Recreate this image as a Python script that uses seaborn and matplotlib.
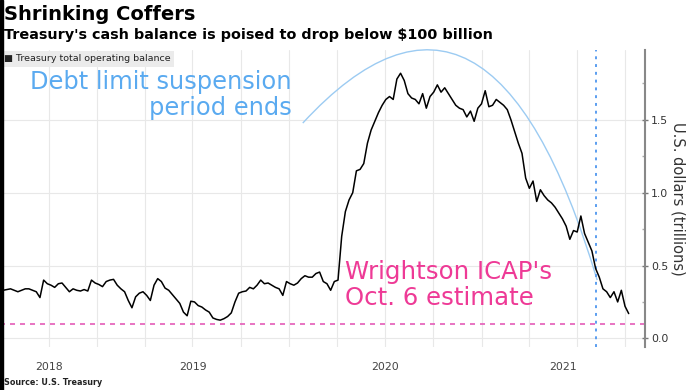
import pandas as pd
import matplotlib.pyplot as plt
import matplotlib.dates as mdates
import seaborn as sns
from matplotlib.path import Path
from matplotlib.patches import PathPatch, Rectangle

# weekly Treasury operating balance (USD trillions)
start_date = "2018-07-06"
balance = [
    0.33, 0.335, 0.34, 0.33, 0.32, 0.33, 0.34, 0.34, 0.33, 0.32,
    0.28, 0.40, 0.375, 0.365, 0.35, 0.375, 0.38, 0.35, 0.32, 0.34,
    0.33, 0.325, 0.335, 0.325, 0.40, 0.38, 0.37, 0.355, 0.39, 0.40,
    0.405, 0.365, 0.34, 0.32, 0.26, 0.21, 0.285, 0.31, 0.32, 0.295,
    0.26, 0.365, 0.41, 0.39, 0.345, 0.33, 0.30, 0.27, 0.24, 0.18,
    0.155, 0.255, 0.25, 0.225, 0.215, 0.195, 0.18, 0.14, 0.13, 0.125,
    0.135, 0.15, 0.175, 0.25, 0.31, 0.32, 0.325, 0.35, 0.34, 0.365,
    0.40, 0.375, 0.38, 0.365, 0.35, 0.34, 0.295, 0.39, 0.375, 0.365,
    0.38, 0.41, 0.43, 0.42, 0.42, 0.445, 0.455, 0.39, 0.375, 0.33,
    0.39, 0.40,
    0.70, 0.87, 0.95, 1.00, 1.15, 1.16, 1.20, 1.34,
    1.43, 1.49, 1.55, 1.60, 1.64, 1.66, 1.64, 1.78, 1.82, 1.77,
    1.68, 1.65, 1.64, 1.61, 1.68, 1.58, 1.66, 1.69, 1.74,
    1.69, 1.72, 1.68, 1.64, 1.60, 1.58, 1.57, 1.52, 1.56, 1.49, 1.58,
    1.61, 1.70, 1.59, 1.60, 1.64, 1.62, 1.60,
    1.57, 1.50, 1.42, 1.34, 1.27, 1.10, 1.03, 1.08, 0.94, 1.02, 0.98, 0.95, 0.93,
    0.90, 0.86, 0.82, 0.77, 0.68, 0.74, 0.73, 0.84, 0.72, 0.66, 0.60,
    0.48, 0.42, 0.34, 0.32, 0.28, 0.32, 0.25, 0.33, 0.22, 0.17,
]
dates = pd.date_range(start_date, periods=len(balance), freq="7D")
df = pd.DataFrame({"date": dates, "balance": balance})

x_start, x_end = pd.Timestamp("2018-06-30"), pd.Timestamp("2021-11-08")
years = [2018, 2019, 2020, 2021]
y_ticks = [0.0, 0.5, 1.0, 1.5]
estimate = 0.1                                 # Wrightson ICAP estimate
suspension_end = pd.Timestamp("2021-08-06")

BLUE_TXT = "#5aaaf0"
PINK = "#ee3a96"

sns.set_theme(style="white")
plt.rcParams["font.family"] = ["DejaVu Sans"]

fig = plt.figure(figsize=(6.92, 3.90), dpi=100)
ax = fig.add_axes([0.0, 0.11, 645 / 692, 0.762])

# ── grid ──────────────────────────────────────────────────────────────────────
ax.xaxis.set_minor_locator(mdates.MonthLocator(bymonth=[1, 4, 7, 10]))
ax.grid(which="minor", axis="x", color="#e8e8e8", lw=0.8)
ax.grid(which="major", axis="y", color="#e8e8e8", lw=0.8)
ax.set_axisbelow(True)

# ── reference lines ───────────────────────────────────────────────────────────
ax.axhline(estimate, color="#e45cb8", lw=1.2, ls=(0, (3, 3)))
ax.axvline(suspension_end, color="#5b9ef0", lw=1.4, ls=(0, (1.5, 2.5)))

sns.lineplot(data=df, x="date", y="balance", color="black", lw=1.1, ax=ax)

# ── arc annotation ────────────────────────────────────────────────────────────
arc_pts = [(mdates.date2num(pd.Timestamp("2020-01-27")), 1.478),
           (mdates.date2num(pd.Timestamp("2021-01-17")), 2.873),
           (mdates.date2num(pd.Timestamp("2021-08-09")), 0.40)]
arc = PathPatch(Path(arc_pts, [Path.MOVETO, Path.CURVE3, Path.CURVE3]),
                fc="none", ec="#9ccbf2", lw=1.0, clip_on=False)
ax.add_patch(arc)

ax.text(292 / 645, 1 - 20 / 297, "Debt limit suspension\nperiod ends",
        transform=ax.transAxes, ha="right", va="top", color=BLUE_TXT,
        fontsize=17.4, linespacing=1.12)
ax.text(345 / 645, 1 - 210 / 297, "Wrightson ICAP's\nOct. 6 estimate",
        transform=ax.transAxes, ha="left", va="top", color=PINK,
        fontsize=17.6, linespacing=1.12)

ax.text(0.006, 0.985, "\u25a0 Treasury total operating balance",
        transform=ax.transAxes, ha="left", va="top", fontsize=6.8,
        color="#222222",
        bbox=dict(facecolor="#ebebeb", edgecolor="none", pad=2.5))

# ── axes ──────────────────────────────────────────────────────────────────────
ax.set_xlim(x_start, x_end)
ax.set_ylim(-0.06, 1.98)

mids = []
for y in years:
    lo = max(x_start, pd.Timestamp(y, 1, 1))
    hi = min(x_end, pd.Timestamp(y + 1, 1, 1))
    mids.append(lo + (hi - lo) / 2)
ax.set_xticks(mids)
ax.set_xticklabels([str(y) for y in years])
ax.tick_params(axis="x", which="both", length=0, pad=11, labelsize=7.8,
               labelcolor="#444444")

ax.yaxis.tick_right()
ax.yaxis.set_label_position("right")
ax.set_yticks(y_ticks)
ax.set_yticklabels([f"{v:.1f}" for v in y_ticks])
ax.set_yticks([0.25, 0.75, 1.25, 1.75], minor=True)
ax.tick_params(axis="y", which="major", direction="inout", length=5,
               width=1, color="#777777", pad=2, labelsize=7.8,
               labelcolor="#333333", right=True)
ax.tick_params(axis="y", which="minor", direction="in", length=2,
               color="#aaaaaa", right=True)
ax.set_ylabel("U.S. dollars (trillions)", rotation=270, labelpad=12,
              fontsize=10.5, color="#333333")
ax.set_xlabel("")

for side in ["left", "top", "bottom"]:
    ax.spines[side].set_visible(False)
ax.spines["right"].set_color("#888888")
ax.spines["right"].set_linewidth(1.5)

# ── titles ────────────────────────────────────────────────────────────────────
fig.text(0.006, 0.962, "Shrinking Coffers", fontsize=14, weight="bold",
         va="center", color="black")
fig.text(0.006, 0.91, "Treasury's cash balance is poised to drop below $100 billion",
         fontsize=10.4, weight="bold", va="center", color="black")
fig.text(0.006, 0.02, "Source: U.S. Treasury", fontsize=5.8, weight="bold",
         va="center", color="#222222")

fig.add_artist(Rectangle((0, 0), 3 / 692, 1, transform=fig.transFigure,
                         color="black", zorder=10))

fig.savefig("out.png", dpi=100)
